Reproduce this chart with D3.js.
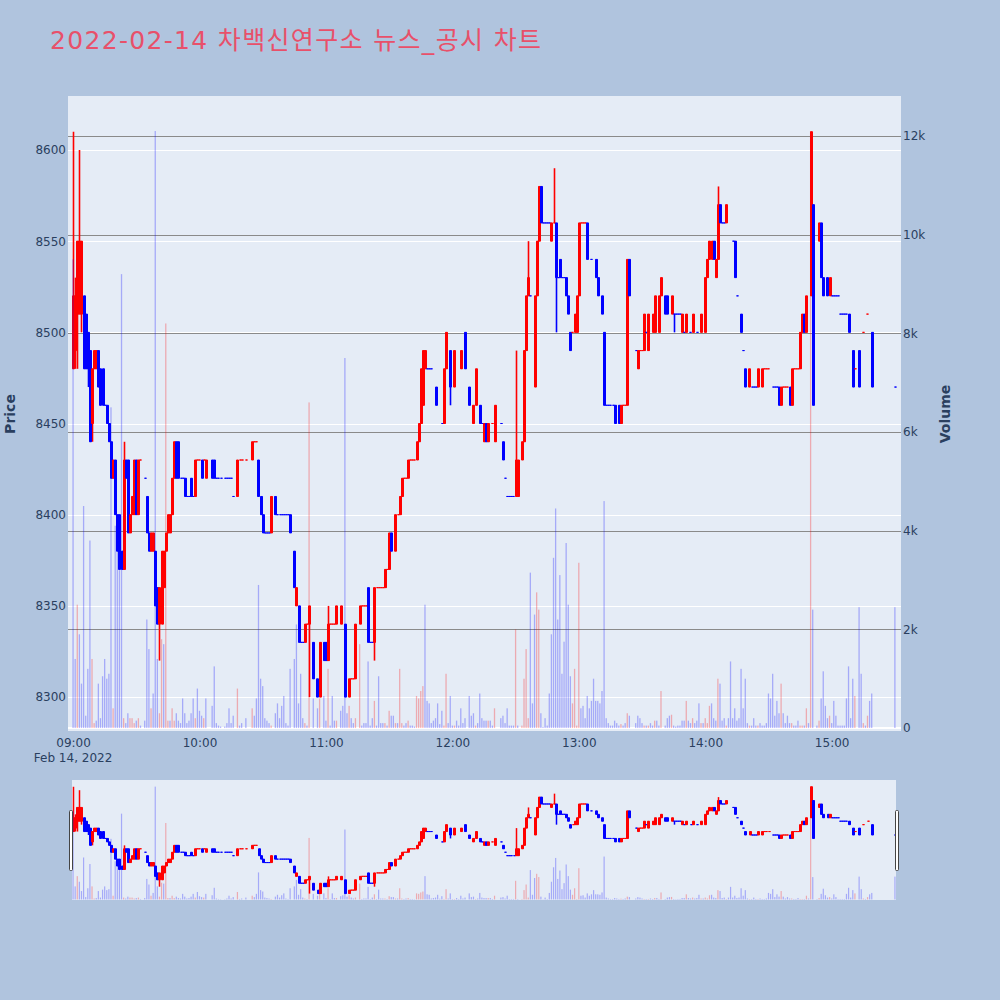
<!DOCTYPE html>
<html><head><meta charset="utf-8">
<script src="https://cdn.jsdelivr.net/npm/d3@7/dist/d3.min.js"></script>
<style>html,body{margin:0;padding:0;background:#b0c4de;} text{font-family:"DejaVu Sans","Noto Sans CJK KR",sans-serif;}</style>
</head><body>
<svg id="chart" width="1000" height="1000"></svg>
<script>
const chartTitle = "2022-02-14 차백신연구소 뉴스_공시 차트";
const sessionDate = "2022-02-14";
const dateLabel = "Feb 14, 2022";
const priceTicks = [8300, 8350, 8400, 8450, 8500, 8550, 8600];
const volumeTicks = [0, 2000, 4000, 6000, 8000, 10000, 12000];
const timeTicks = ["09:00", "10:00", "11:00", "12:00", "13:00", "14:00", "15:00"];

// one entry per minute from 09:00 (null = no trade in that minute)
const open = [
8480,8490,8510,8510,8510,8520,8510,8500,8490,8450,
8480,8480,8490,8480,8480,8460,8460,8450,8440,8420,
8430,8400,8400,8380,8370,8430,8430,8390,8400,8400,
8430,8400,8430,null,8420,8410,8390,8380,8380,8380,
8360,8340,8340,8360,8380,8390,8390,8400,8420,8440,
8440,8420,8420,8420,8410,8410,8420,8410,8410,8430,
8430,8430,8430,8420,null,null,8430,8430,8420,8420,
8420,null,8420,8420,8420,8420,8410,null,8410,8430,
8430,null,8430,null,null,8430,8440,8440,8430,8410,
8400,8390,8390,8390,8390,null,8410,8400,8400,8400,
8400,8400,8400,8400,null,8380,8350,8350,8330,8330,
8330,8340,8340,null,8330,null,8310,8300,null,8330,
8330,8320,8340,8340,8340,8340,null,8340,null,8340,
null,8300,8310,8310,8310,null,8340,8350,8350,8350,
8360,8330,8330,8330,8360,8360,8360,8360,8360,8370,
8370,8390,null,8380,8400,8400,8410,8420,8420,8420,
8430,8430,8430,8430,8440,8450,8460,8480,8480,8480,
8480,null,8470,null,null,8450,8450,8480,null,8490,
null,8470,null,null,8480,null,8500,null,8470,null,
8450,8460,null,8460,8450,8440,8450,8440,null,8450,
8440,null,null,8450,8440,8420,8410,8410,8410,8410,
8410,8410,null,8430,8440,8490,8520,8520,null,8470,
8520,8550,8580,8560,8560,8560,8560,8550,8560,8560,
8530,8540,8530,8530,8530,8520,8500,8500,8500,8500,
8520,8560,8560,8560,8560,null,8540,null,8540,8530,
null,8520,8500,8460,8460,8460,8460,8460,null,8460,
8450,8460,8460,8460,8540,null,null,8490,8480,8490,
8490,8490,8500,8490,null,8500,8500,null,8500,8520,
null,8520,8520,null,8510,8510,8510,8510,8510,8500,
8500,8500,null,8500,8500,null,8500,null,8500,null,
8500,8530,8540,8540,8550,8530,8540,8570,8560,8560,
8560,null,null,8550,8550,8520,null,8510,8490,8480,
null,8470,8470,8470,8470,8470,null,8470,8480,8480,
8480,null,8470,8470,8470,8470,8460,8470,8470,8470,
8470,8460,8480,8480,8480,8480,8500,8510,8500,null,
8520,8570,null,null,8550,8560,8530,null,8530,8520,
8520,8520,8520,8520,8510,8510,8510,8510,8510,null,
8490,8480,null,8490,null,8500,null,8510,null,8500,
null,null,null,null,null,null,null,null,null,null,
8470];

const high = [
8610,8530,8550,8600,8550,8520,8510,8500,8490,8480,
8490,8490,8490,8480,8480,8460,8460,8450,8440,8430,
8430,8400,8400,8380,8440,8430,8430,8400,8410,8430,
8430,8430,8430,null,8420,8410,8390,8390,8390,8380,
8360,8360,8380,8380,8390,8400,8400,8420,8440,8440,
8440,8420,8420,8420,8410,8410,8420,8410,8430,8430,
8430,8430,8430,8430,null,null,8430,8430,8420,8420,
8420,null,8420,8420,8420,8420,8410,null,8430,8430,
8430,null,8430,null,null,8440,8440,8440,8430,8410,
8400,8390,8390,8390,8410,null,8410,8400,8400,8400,
8400,8400,8400,8400,null,8380,8360,8350,8330,8330,
8340,8340,8350,null,8330,null,8310,8330,null,8330,
8330,8350,8340,8340,8340,8350,null,8350,null,8340,
null,8310,8310,8310,8340,null,8350,8350,8350,8350,
8360,8330,8330,8360,8360,8360,8360,8360,8370,8370,
8390,8390,null,8400,8400,8410,8420,8420,8420,8430,
8430,8430,8430,8440,8450,8480,8490,8490,8480,8480,
8480,null,8470,null,null,8450,8480,8500,null,8490,
null,8490,null,null,8490,null,8500,null,8470,null,
8460,8480,null,8460,8450,8450,8450,8450,null,8450,
8460,null,null,8450,8440,8420,8410,8410,8410,8410,
8490,8430,null,8440,8490,8520,8550,8520,null,8520,
8550,8580,8580,8560,8560,8560,8560,8560,8590,8560,
8530,8540,8530,8530,8530,8520,8500,8500,8510,8520,
8560,8560,8560,8560,8560,null,8540,null,8540,8530,
null,8520,8500,8460,8460,8460,8460,8460,null,8460,
8460,8460,8460,8540,8540,null,null,8490,8490,8490,
8490,8510,8500,8510,null,8510,8520,null,8520,8530,
null,8520,8520,null,8520,8510,8510,8510,8510,8510,
8500,8510,null,8500,8510,null,8500,null,8510,null,
8530,8540,8550,8550,8550,8540,8580,8570,8560,8560,
8570,null,null,8550,8550,8520,null,8510,8490,8480,
null,8480,8470,8470,8470,8480,null,8480,8480,8480,
8480,null,8470,8470,8470,8470,8470,8470,8470,8470,
8470,8480,8480,8480,8480,8500,8510,8510,8520,null,
8610,8570,null,null,8560,8560,8530,null,8530,8530,
8520,8520,8520,8520,8510,8510,8510,8510,8510,null,
8490,8480,null,8490,null,8500,null,8510,null,8500,
null,null,null,null,null,null,null,null,null,null,
8470];

const low = [
8480,8480,8480,8510,8500,8480,8480,8470,8440,8440,
8480,8480,8470,8460,8460,8460,8450,8440,8420,8420,
8400,8380,8370,8370,8370,8420,8390,8390,8400,8400,
8400,8400,8430,null,8420,8390,8380,8380,8380,8350,
8340,8320,8340,8360,8380,8390,8390,8400,8420,8420,
8420,8420,8420,8410,8410,8410,8410,8410,8410,8430,
8430,8420,8430,8420,null,null,8420,8420,8420,8420,
8420,null,8420,8420,8420,8420,8410,null,8410,8430,
8430,null,8430,null,null,8430,8440,8440,8410,8400,
8390,8390,8390,8390,8390,null,8400,8400,8400,8400,
8400,8400,8400,8390,null,8360,8350,8330,8330,8330,
8330,8340,8300,null,8310,null,8300,8300,null,8320,
8320,8320,8340,8340,8340,8340,null,8340,null,8300,
null,8300,8310,8310,8310,null,8340,8350,8350,8350,
8330,8330,8330,8320,8360,8360,8360,8360,8360,8370,
8370,8380,null,8380,8400,8400,8410,8420,8420,8420,
8430,8430,8430,8430,8440,8450,8460,8480,8480,8480,
8480,null,8460,null,null,8450,8450,8480,null,8460,
null,8470,null,null,8480,null,8480,null,8460,null,
8450,8460,null,8450,8450,8440,8440,8440,null,8450,
8440,null,null,8450,8430,8420,8410,8410,8410,8410,
8410,8410,null,8430,8440,8490,8520,8520,null,8470,
8520,8550,8560,8560,8560,8560,8560,8550,8560,8500,
8530,8530,8530,8530,8520,8510,8490,8500,8500,8500,
8520,8560,8560,8560,8540,null,8540,null,8530,8520,
null,8510,8460,8460,8460,8460,8460,8450,null,8450,
8450,8460,8460,8460,8520,null,null,8490,8480,8490,
8490,8490,8500,8490,null,8500,8500,null,8500,8520,
null,8510,8510,null,8510,8500,8510,8510,8510,8500,
8500,8500,null,8500,8500,null,8500,null,8500,null,
8500,8530,8540,8540,8540,8530,8540,8560,8560,8560,
8560,null,null,8550,8530,8520,null,8500,8490,8470,
null,8470,8470,8470,8470,8470,null,8470,8480,8480,
8480,null,8470,8470,8470,8460,8460,8470,8470,8470,
8460,8460,8480,8480,8480,8480,8500,8500,8500,null,
8520,8460,null,null,8550,8530,8520,null,8520,8520,
8520,8520,8520,8520,8510,8510,8510,8510,8500,null,
8470,8480,null,8470,null,8500,null,8510,null,8470,
null,null,null,null,null,null,null,null,null,null,
8470];

const close = [
8520,8520,8550,8550,8550,8480,8480,8480,8440,8480,
8490,8490,8470,8460,8460,8460,8450,8440,8420,8430,
8400,8380,8370,8370,8430,8420,8390,8400,8410,8430,
8400,8430,8430,null,8420,8390,8380,8390,8390,8350,
8340,8360,8380,8380,8390,8400,8400,8420,8440,8420,
8420,8420,8420,8410,8410,8410,8410,8410,8430,8430,
8430,8420,8430,8430,null,null,8420,8420,8420,8420,
8420,null,8420,8420,8420,8420,8410,null,8430,8430,
8430,null,8430,null,null,8440,8440,8440,8410,8400,
8390,8390,8390,8390,8410,null,8400,8400,8400,8400,
8400,8400,8400,8390,null,8360,8360,8330,8330,8330,
8340,8340,8350,null,8310,null,8300,8330,null,8320,
8320,8340,8340,8340,8340,8350,null,8350,null,8300,
null,8310,8310,8310,8340,null,8350,8350,8350,8350,
8330,8330,8330,8360,8360,8360,8360,8360,8370,8370,
8390,8380,null,8400,8400,8410,8420,8420,8420,8430,
8430,8430,8430,8440,8450,8480,8490,8490,8480,8480,
8480,null,8460,null,null,8450,8480,8500,null,8470,
null,8490,null,null,8490,null,8480,null,8460,null,
8460,8480,null,8450,8450,8450,8440,8450,null,8450,
8460,null,null,8450,8430,8420,8410,8410,8410,8410,
8430,8430,null,8440,8490,8520,8530,8520,null,8520,
8550,8580,8560,8560,8560,8560,8560,8560,8560,8530,
8530,8530,8530,8530,8520,8510,8490,8500,8510,8520,
8560,8560,8560,8560,8540,null,8540,null,8530,8520,
null,8510,8460,8460,8460,8460,8460,8450,null,8450,
8460,8460,8460,8540,8520,null,null,8490,8490,8490,
8490,8510,8500,8510,null,8510,8520,null,8520,8530,
null,8510,8510,null,8520,8510,8510,8510,8510,8510,
8500,8510,null,8500,8510,null,8500,null,8510,null,
8530,8540,8550,8550,8540,8540,8570,8560,8560,8560,
8570,null,null,8550,8530,8520,null,8500,8490,8470,
null,8480,8470,8470,8470,8480,null,8480,8480,8480,
8480,null,8470,8470,8470,8460,8470,8470,8470,8470,
8460,8480,8480,8480,8480,8500,8510,8500,8520,null,
8610,8460,null,null,8560,8530,8520,null,8520,8530,
8520,8520,8520,8520,8510,8510,8510,8510,8500,null,
8470,8480,null,8470,null,8500,null,8510,null,8470,
null,null,null,null,null,null,null,null,null,null,
8470];

const volume = [
9500,1400,2500,1900,900,4500,250,1200,3800,1400,
100,150,900,200,1050,1400,1000,1100,6500,400,
4100,3700,3200,9200,200,100,300,200,200,100,
150,200,50,0,150,2200,1600,400,700,12100,
1400,300,1800,1700,8200,150,150,400,150,300,
150,100,600,300,100,150,300,600,200,800,
350,250,200,600,0,0,450,1250,100,50,
30,0,30,100,400,100,250,0,800,50,
100,0,200,0,0,400,250,600,2900,1000,
850,200,150,100,50,0,300,500,200,450,
650,100,50,1200,0,1400,2100,500,1100,200,
100,50,6600,0,600,0,400,600,0,650,
150,1200,50,650,150,150,0,350,450,7500,
300,450,200,100,200,0,1700,50,100,100,
1350,50,200,550,50,1050,100,100,100,50,
350,250,250,100,100,1200,100,50,100,150,
50,50,30,650,600,750,850,2500,550,500,
100,150,200,500,80,350,50,1100,100,650,
50,50,150,50,400,100,200,0,650,250,
300,50,100,700,200,150,150,150,150,50,
400,0,0,200,250,100,400,50,50,50,
2000,50,0,50,1000,1600,200,3150,500,2300,
2750,2400,300,20,200,50,700,1900,3450,4450,
2200,3100,1100,1750,3750,2500,1050,500,1200,50,
3350,400,450,200,650,400,550,1000,550,550,
500,750,4600,200,100,50,50,150,100,50,
80,50,100,300,250,0,0,100,250,200,
100,50,50,50,100,50,150,150,50,750,
0,50,200,250,270,50,30,50,50,150,
150,550,150,100,200,100,150,500,100,100,
200,100,450,500,200,150,1000,900,150,200,
50,200,1350,200,400,150,200,1200,400,1000,
100,50,50,200,50,50,100,50,50,100,
700,600,1100,250,550,300,900,300,100,250,
100,100,50,50,150,50,50,50,400,100,
12100,2400,0,50,150,600,1150,450,200,250,
100,550,250,50,50,50,50,600,1250,200,
1000,650,0,2450,1100,100,50,250,550,700,
0,0,0,0,0,0,0,0,0,0,
2450];

const C_UP = "#ff0000", C_DN = "#0000ff";
const N = open.length;
const [Y, Mo, D] = sessionDate.split("-").map(Number);
const start = new Date(Y, Mo - 1, D, 9, 0);
const tAt = m => new Date(start.getTime() + m * 60000);
const times = d3.range(N).map(tAt);
const parseTick = s => { const [h, m] = s.split(":").map(Number); return new Date(Y, Mo - 1, D, h, m); };

// candle direction (open==close -> compare with previous close)
const dir = []; { let inc = true, cPrev = null;
  for (let i = 0; i < N; i++) {
    if (open[i] == null) { dir.push(inc); continue; }
    const o = open[i], c = close[i];
    if (c === o) { if (cPrev !== null && c !== cPrev) inc = c > cPrev; }
    else inc = c > o;
    cPrev = c; dir.push(inc);
  } }
// volume colour: close above previous close -> red
const volUp = []; { let prev = null;
  for (let i = 0; i < N; i++) {
    if (close[i] == null) { volUp.push(false); continue; }
    volUp.push(prev !== null && close[i] > prev); prev = close[i];
  } }

const svg = d3.select("#chart");
svg.append("rect").attr("width", 1000).attr("height", 1000).attr("fill", "#b0c4de");

svg.append("text").attr("x", 50).attr("y", 49).attr("font-size", 25)
  .attr("textLength", 491).attr("lengthAdjust", "spacing")
  .attr("fill", "#e8506a").text(chartTitle);

// ---------- main plot ----------
const L = 68, R = 901, T = 96, B = 731;
const x = d3.scaleTime().domain([tAt(-2.4), tAt(392.9)]).range([L, R]);
const yP = d3.scaleLinear().domain([8281.4, 8629.6]).range([B, T]);
const yV = d3.scaleLinear().domain([-60, 12810]).range([B, T]);

svg.append("rect").attr("x", L).attr("y", T).attr("width", R - L).attr("height", B - T).attr("fill", "#e5ecf6");

const grid = svg.append("g");
grid.selectAll("line.pg").data(priceTicks).join("line")
  .attr("x1", L).attr("x2", R).attr("y1", d => Math.round(yP(d)) + 0.5).attr("y2", d => Math.round(yP(d)) + 0.5)
  .attr("stroke", "#ffffff").attr("stroke-width", 1);
grid.selectAll("line.vg").data(volumeTicks.filter(v => v > 0)).join("line")
  .attr("x1", L).attr("x2", R).attr("y1", d => Math.round(yV(d)) + 0.5).attr("y2", d => Math.round(yV(d)) + 0.5)
  .attr("stroke", "#8a8a8a").attr("stroke-width", 1);
grid.append("line").attr("x1", L).attr("x2", R).attr("y1", yV(0)).attr("y2", yV(0))
  .attr("stroke", "#ffffff").attr("stroke-width", 2);

function drawSeries(g, xs, yp, yv, hw, vw, ww) {
  const valid = d3.range(N).filter(i => open[i] != null);
  const col = i => dir[i] ? C_UP : C_DN;
  const xc = i => Math.round(xs(times[i])) + 0.5;
  g.append("g").selectAll("path").data(valid).join("path")
    .attr("d", i => `M${xc(i)},${yp(high[i])}V${yp(low[i])}`)
    .attr("stroke", col).attr("stroke-width", ww).attr("fill", "none");
  g.append("g").selectAll("path").data(valid).join("path")
    .attr("d", i => { const c = xc(i); return `M${c - hw},${yp(open[i])}H${c + hw}V${yp(close[i])}H${c - hw}Z`; })
    .attr("fill", col).attr("stroke", col).attr("stroke-width", 1);
  const vi = d3.range(N).filter(i => volume[i] > 0);
  g.append("g").selectAll("rect").data(vi).join("rect")
    .attr("x", i => xs(times[i]) - vw / 2).attr("width", vw)
    .attr("y", i => yv(volume[i])).attr("height", i => yv(0) - yv(volume[i]))
    .attr("fill", i => volUp[i] ? C_UP : C_DN).attr("opacity", 0.28);
}
const mainG = svg.append("g");
drawSeries(mainG, x, yP, yV, 1, 1.3, 1.6);

// axes
const axL = svg.append("g").attr("transform", `translate(${L},0)`)
  .call(d3.axisLeft(yP).tickValues(priceTicks).tickSize(0).tickPadding(2).tickFormat(d3.format("d")));
const axR = svg.append("g").attr("transform", `translate(${R},0)`)
  .call(d3.axisRight(yV).tickValues(volumeTicks).tickSize(0).tickPadding(2).tickFormat(d => d === 0 ? "0" : d3.format("~s")(d)));
const axB = svg.append("g").attr("transform", `translate(0,${B})`)
  .call(d3.axisBottom(x).tickValues(timeTicks.map(parseTick)).tickSize(0).tickPadding(7.5).tickFormat(d3.timeFormat("%H:%M")));
[axL, axR, axB].forEach(a => {
  a.select(".domain").remove();
  a.selectAll("text").attr("font-size", 12).attr("fill", "#2a3f5f").attr("font-family", "DejaVu Sans");
});
svg.append("text").attr("x", x(parseTick(timeTicks[0]))).attr("y", 762).attr("text-anchor", "middle")
  .attr("font-size", 12).attr("fill", "#2a3f5f").text(dateLabel);

svg.append("text").attr("transform", "translate(15,414) rotate(-90)").attr("text-anchor", "middle")
  .attr("font-size", 14).attr("font-weight", "bold").attr("fill", "#2a3f5f").text("Price");
svg.append("text").attr("transform", "translate(950,414) rotate(-90)").attr("text-anchor", "middle")
  .attr("font-size", 14).attr("font-weight", "bold").attr("fill", "#2a3f5f").text("Volume");

// ---------- range slider ----------
const SL = 72, SR = 896, ST = 780, SB = 900;
const xs = d3.scaleTime().domain([tAt(-0.5), tAt(390.5)]).range([SL, SR]);
const yPs = d3.scaleLinear().domain(yP.domain()).range([SB, ST]);
const yVs = d3.scaleLinear().domain(yV.domain()).range([SB, ST]);
svg.append("defs").append("clipPath").attr("id", "sclip").append("rect")
  .attr("x", SL).attr("y", ST).attr("width", SR - SL).attr("height", SB - ST);
svg.append("rect").attr("x", SL).attr("y", ST).attr("width", SR - SL).attr("height", SB - ST).attr("fill", "#e5ecf6");
const sG = svg.append("g").attr("clip-path", "url(#sclip)");
drawSeries(sG, xs, yPs, yVs, 1, 1.2, 1.5);
[SL - 2.5, SR - 0.5].forEach(hx => {
  svg.append("rect").attr("x", hx).attr("y", 810.5).attr("width", 3).attr("height", 60)
    .attr("rx", 1).attr("fill", "#ffffff").attr("stroke", "#444").attr("stroke-width", 1);
});
</script>
</body></html>
